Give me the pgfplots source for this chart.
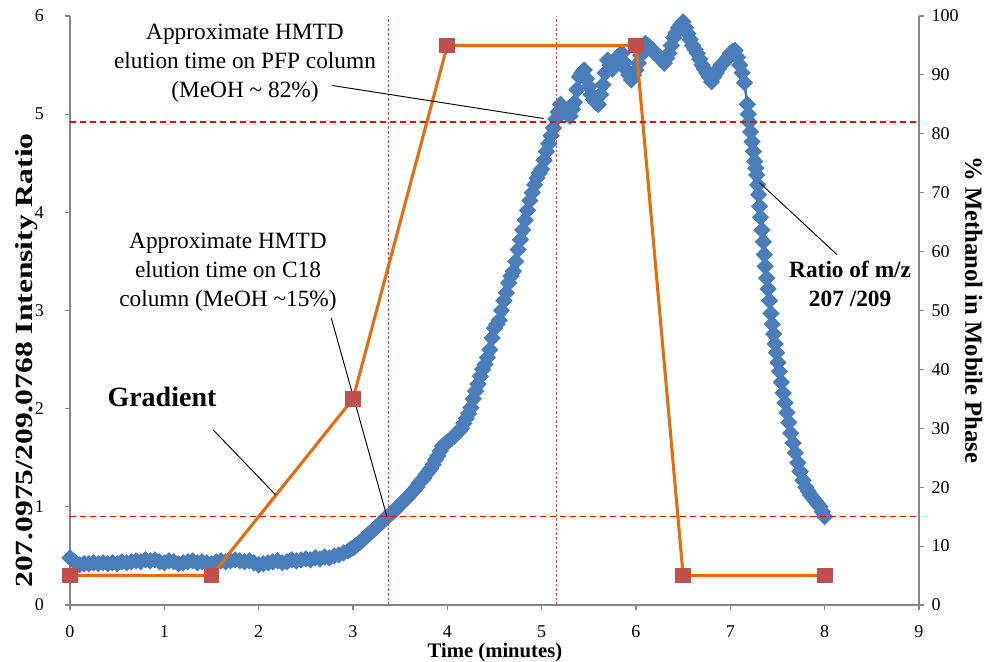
\documentclass[border=0pt]{standalone}
\usepackage{pgfplots}
\pgfplotsset{compat=1.18}
\usepackage{fontspec}
\setmainfont{Liberation Serif}
\definecolor{serblue}{HTML}{4A7EBB}
\definecolor{gradorange}{HTML}{E46C0A}
\definecolor{sqred}{HTML}{C0504D}
\definecolor{axgray}{HTML}{868686}
\pgfplotstableread{
x y
0.00 0.48
0.05 0.44
0.10 0.41
0.15 0.42
0.20 0.42
0.25 0.43
0.30 0.42
0.35 0.43
0.40 0.42
0.45 0.43
0.50 0.42
0.55 0.44
0.60 0.43
0.65 0.44
0.70 0.45
0.75 0.44
0.80 0.46
0.85 0.45
0.90 0.46
0.95 0.44
1.00 0.43
1.05 0.45
1.10 0.44
1.15 0.42
1.20 0.43
1.25 0.44
1.30 0.45
1.35 0.43
1.40 0.44
1.45 0.43
1.50 0.42
1.55 0.44
1.60 0.45
1.65 0.44
1.70 0.45
1.75 0.46
1.80 0.45
1.85 0.44
1.90 0.45
1.95 0.43
2.00 0.41
2.05 0.42
2.10 0.43
2.15 0.44
2.20 0.45
2.25 0.43
2.30 0.44
2.35 0.46
2.40 0.45
2.45 0.46
2.50 0.47
2.55 0.46
2.60 0.48
2.65 0.47
2.70 0.49
2.75 0.48
2.80 0.50
2.85 0.51
2.90 0.53
2.95 0.55
2.975 0.57
3.00 0.58
3.025 0.60
3.05 0.62
3.075 0.64
3.10 0.66
3.125 0.68
3.15 0.71
3.175 0.73
3.20 0.75
3.225 0.77
3.25 0.79
3.275 0.82
3.30 0.84
3.325 0.86
3.35 0.89
3.375 0.91
3.40 0.93
3.425 0.95
3.45 0.97
3.475 1.00
3.50 1.02
3.525 1.05
3.55 1.07
3.575 1.09
3.60 1.12
3.625 1.15
3.65 1.17
3.675 1.20
3.70 1.24
3.725 1.27
3.75 1.29
3.775 1.33
3.80 1.36
3.825 1.39
3.85 1.43
3.875 1.48
3.90 1.52
3.925 1.57
3.95 1.62
3.975 1.64
4.00 1.66
4.025 1.68
4.05 1.70
4.075 1.72
4.10 1.75
4.125 1.77
4.15 1.80
4.175 1.85
4.20 1.90
4.225 1.95
4.25 2.01
4.275 2.10
4.30 2.18
4.325 2.25
4.35 2.33
4.375 2.40
4.40 2.45
4.425 2.52
4.45 2.60
4.475 2.72
4.50 2.82
4.525 2.86
4.55 2.90
4.575 3.00
4.60 3.10
4.625 3.18
4.65 3.28
4.675 3.35
4.70 3.40
4.725 3.50
4.75 3.62
4.775 3.72
4.80 3.82
4.825 3.92
4.85 4.02
4.875 4.12
4.90 4.20
4.925 4.28
4.95 4.35
4.975 4.40
5.00 4.44
5.025 4.53
5.05 4.62
5.075 4.70
5.10 4.78
5.125 4.86
5.15 4.95
5.175 5.02
5.20 5.10
5.225 5.06
5.25 5.02
5.275 5.00
5.30 4.98
5.325 5.05
5.35 5.12
5.375 5.25
5.40 5.38
5.425 5.42
5.45 5.45
5.475 5.36
5.50 5.28
5.525 5.20
5.55 5.15
5.575 5.12
5.60 5.10
5.625 5.20
5.65 5.30
5.675 5.42
5.70 5.55
5.725 5.50
5.75 5.46
5.775 5.52
5.80 5.58
5.825 5.60
5.85 5.62
5.875 5.53
5.90 5.45
5.925 5.40
5.95 5.35
5.975 5.40
6.00 5.45
6.025 5.52
6.05 5.60
6.075 5.66
6.10 5.72
6.125 5.70
6.15 5.68
6.175 5.65
6.20 5.62
6.225 5.60
6.25 5.58
6.275 5.55
6.30 5.52
6.325 5.57
6.35 5.62
6.375 5.70
6.40 5.78
6.425 5.83
6.45 5.88
6.475 5.91
6.50 5.94
6.525 5.88
6.55 5.82
6.575 5.76
6.60 5.70
6.625 5.66
6.65 5.62
6.675 5.56
6.70 5.50
6.725 5.46
6.75 5.42
6.775 5.38
6.80 5.33
6.825 5.38
6.85 5.42
6.875 5.46
6.90 5.50
6.925 5.52
6.95 5.55
6.975 5.58
7.00 5.62
7.025 5.64
7.05 5.65
7.075 5.58
7.10 5.50
7.125 5.42
7.15 5.32
7.18 5.10
7.19 5.00
7.20 4.92
7.215 4.82
7.23 4.72
7.245 4.62
7.26 4.52
7.27 4.45
7.28 4.38
7.29 4.28
7.30 4.18
7.31 4.06
7.32 3.95
7.335 3.82
7.35 3.70
7.36 3.57
7.37 3.45
7.385 3.33
7.40 3.22
7.415 3.10
7.43 2.97
7.445 2.86
7.46 2.76
7.475 2.66
7.49 2.57
7.505 2.47
7.52 2.38
7.54 2.27
7.56 2.16
7.58 2.06
7.60 1.96
7.62 1.86
7.64 1.75
7.665 1.65
7.69 1.55
7.715 1.45
7.74 1.36
7.77 1.27
7.80 1.20
7.825 1.16
7.85 1.12
7.875 1.09
7.90 1.06
7.925 1.03
7.95 1.00
7.975 0.95
8.00 0.90
}\ratiodata
\pgfplotstableread{
x y
0 5
1.5 5
3 35
4 95
6 95
6.5 5
8 5
}\gradientdata
\begin{document}
\begin{tikzpicture}
\useasboundingbox (-52.5pt,-42pt) rectangle (689.25pt,453.75pt);
\pgfplotsset{
  common/.style={
    width=636.75pt, height=441.75pt, scale only axis,
    at={(0,0)}, anchor=south west,
    xmin=0, xmax=9, clip=false,
    /pgf/number format/assume math mode=true,
    tick align=outside, major tick length=4pt,
    every tick/.style={axgray, line width=0.8pt},
    axis line style={axgray, line width=0.8pt},
    tick label style={font=\fontsize{13.5}{16}\selectfont},
  }
}
\begin{axis}[common,
  ymin=0, ymax=6, ytick={0,1,...,6}, xtick={0,1,...,9},
  axis y line*=left, axis x line*=bottom,
  xticklabel style={yshift=-8pt},
  yticklabel style={xshift=-12pt},
]
\addplot[serblue, line width=2pt, mark=square*, mark size=3.6pt,
  mark options={rotate=45, fill=serblue, draw=serblue}] table[x=x,y=y] {\ratiodata};
\end{axis}
\begin{axis}[common,
  ymin=0, ymax=100, ytick={0,10,...,100},
  axis y line*=right, axis x line=none,
  yticklabel style={xshift=2pt},
]
\addplot[gradorange, line width=2.3pt, mark=square*, mark size=4.8pt,
  mark options={fill=sqred, draw=sqred}] table[x=x,y=y] {\gradientdata};
% reference lines
\draw[red, line width=0.8pt, dash pattern=on 4.5pt off 3pt] (axis cs:0,82) -- (axis cs:9,82);
\draw[red, line width=0.8pt, dash pattern=on 4.5pt off 3pt] (axis cs:0,15) -- (axis cs:9,15);
\draw[red!80, line width=0.6pt, dash pattern=on 2pt off 1.5pt] (axis cs:3.37,0) -- (axis cs:3.37,100);
\draw[red!80, line width=0.6pt, dash pattern=on 2pt off 1.5pt] (axis cs:5.16,0) -- (axis cs:5.16,100);
% leader lines
\draw[black, line width=0.7pt] (axis cs:2.78,88.2) -- (axis cs:5.02,82.6);
\draw[black, line width=0.7pt] (axis cs:2.77,48.7) -- (axis cs:3.36,15.0);
\draw[black, line width=0.7pt] (axis cs:1.52,29.7) -- (axis cs:2.18,18.7);
\draw[black, line width=0.7pt] (axis cs:7.31,71.7) -- (axis cs:8.13,59.5);
% annotations
\node[align=center, font=\fontsize{17.5}{21.5}\selectfont] at (axis cs:1.855,92.0)
  {Approximate HMTD\\elution time on PFP column\\(MeOH \textasciitilde{} 82\%)};
\node[align=center, font=\fontsize{17.5}{21.5}\selectfont] at (axis cs:1.675,56.5)
  {Approximate HMTD\\elution time on C18\\column (MeOH \textasciitilde15\%)};
\node[font=\fontsize{21}{25}\selectfont\bfseries] at (axis cs:0.975,35.3) {Gradient};
\node[align=center, font=\fontsize{17.5}{21.5}\selectfont\bfseries] at (axis cs:8.27,54.5)
  {Ratio of m/z\\207 /209};
% axis titles
\node[font=\fontsize{15.5}{18}\selectfont\bfseries] at (axis cs:4.505,-8.1) {Time (minutes)};
\node[rotate=90, font=\fontsize{18.5}{21}\selectfont\bfseries] at (axis cs:-0.46,41.5)
  {\scalebox{1.28}[1]{207.0975/209.0768 Intensity Ratio}};
\node[rotate=-90, font=\fontsize{18.5}{21}\selectfont\bfseries] at (axis cs:9.58,50.1)
  {\% Methanol in Mobile Phase};
\end{axis}
\end{tikzpicture}
\end{document}
